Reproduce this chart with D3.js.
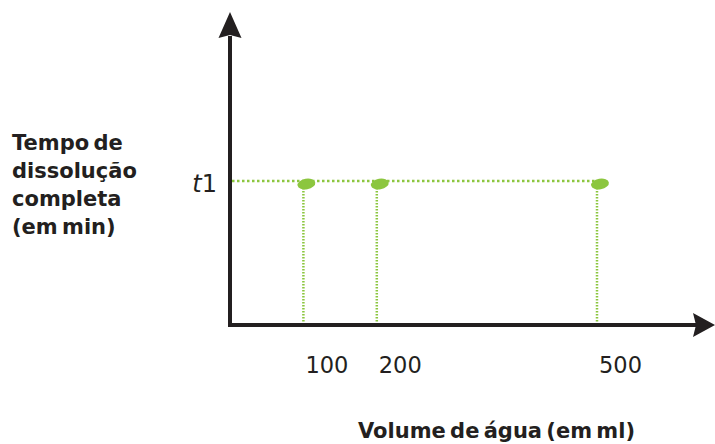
<!DOCTYPE html>
<html><head><meta charset="utf-8">
<script src="https://cdn.jsdelivr.net/npm/d3@7"></script>
<style>body{margin:0;background:#fff}svg{display:block}</style>
</head><body>
<script>
const volumes = [100, 200, 500];
const times = [1, 1, 1];
const xTickLabels = ["100", "200", "500"];
const yTickLabel = "t1";
const yTitleLines = ["Tempo de", "dissolução", "completa", "(em min)"];
const xTitle = "Volume de água (em ml)";

const W = 715, H = 444;
const ox = 230, oy = 325;
const FONT = "'DejaVu Sans', Verdana, sans-serif";
const svg = d3.select("body").append("svg").attr("width", W).attr("height", H)
  .style("font-family", FONT);
const x = d3.scaleLinear().domain([0, 500]).range([ox, 597]);
const y = d3.scaleLinear().domain([0, 1]).range([oy, 181]);
const green = "#8cc63f", ink = "#231f20";

// guides
svg.append("line").attr("x1", ox + 2).attr("x2", x(d3.max(volumes)))
  .attr("y1", y(1)).attr("y2", y(1))
  .attr("stroke", green).attr("stroke-width", 2.5).attr("stroke-dasharray", "2.5,2.5");
svg.selectAll("line.v").data(volumes).join("line").attr("class", "v")
  .attr("x1", d => x(d)).attr("x2", d => x(d))
  .attr("y1", (d, i) => y(times[i]) + 4).attr("y2", oy)
  .attr("stroke", green).attr("stroke-width", 2.5).attr("stroke-dasharray", "1.5,1.5");

// axes
svg.append("line").attr("x1", ox).attr("x2", ox).attr("y1", oy + 2).attr("y2", 36)
  .attr("stroke", ink).attr("stroke-width", 4);
svg.append("path").attr("d", `M${ox},12 L${ox + 11.5},38 L${ox},35 L${ox - 11.5},38 Z`).attr("fill", ink);
svg.append("line").attr("x1", ox - 2).attr("x2", 697).attr("y1", oy).attr("y2", oy)
  .attr("stroke", ink).attr("stroke-width", 4);
svg.append("path").attr("d", `M715,${oy} L693,${oy + 12} L696,${oy} L693,${oy - 12} Z`).attr("fill", ink);

// points
svg.selectAll("ellipse").data(volumes).join("ellipse")
  .attr("cx", d => x(d) + 3).attr("cy", (d, i) => y(times[i]) + 3)
  .attr("rx", 9).attr("ry", 5.3)
  .attr("transform", (d, i) => `rotate(-10,${x(d) + 3},${y(times[i]) + 3})`)
  .attr("fill", green);

// tick labels
svg.selectAll("text.xt").data(volumes).join("text").attr("class", "xt")
  .attr("x", d => x(d) + 2).attr("y", 373).attr("fill", ink)
  .attr("font-size", 22.5).text((d, i) => xTickLabels[i]);
const tl = svg.append("text").attr("x", 217).attr("y", 192).attr("text-anchor", "end")
  .attr("font-size", 24).attr("fill", ink);
tl.append("tspan").attr("font-style", "italic").text(yTickLabel[0]);
tl.append("tspan").text(yTickLabel.slice(1));

// titles
svg.selectAll("text.yt").data(yTitleLines).join("text").attr("class", "yt")
  .attr("x", 12).attr("y", (d, i) => 150 + i * 28).attr("fill", ink)
  .attr("font-size", 21).attr("font-weight", "bold").attr("word-spacing", -3).text(d => d);
svg.append("text").attr("x", 358).attr("y", 438).attr("font-size", 21).attr("fill", ink)
  .attr("font-weight", "bold").attr("word-spacing", -3).text(xTitle);
</script>
</body></html>
